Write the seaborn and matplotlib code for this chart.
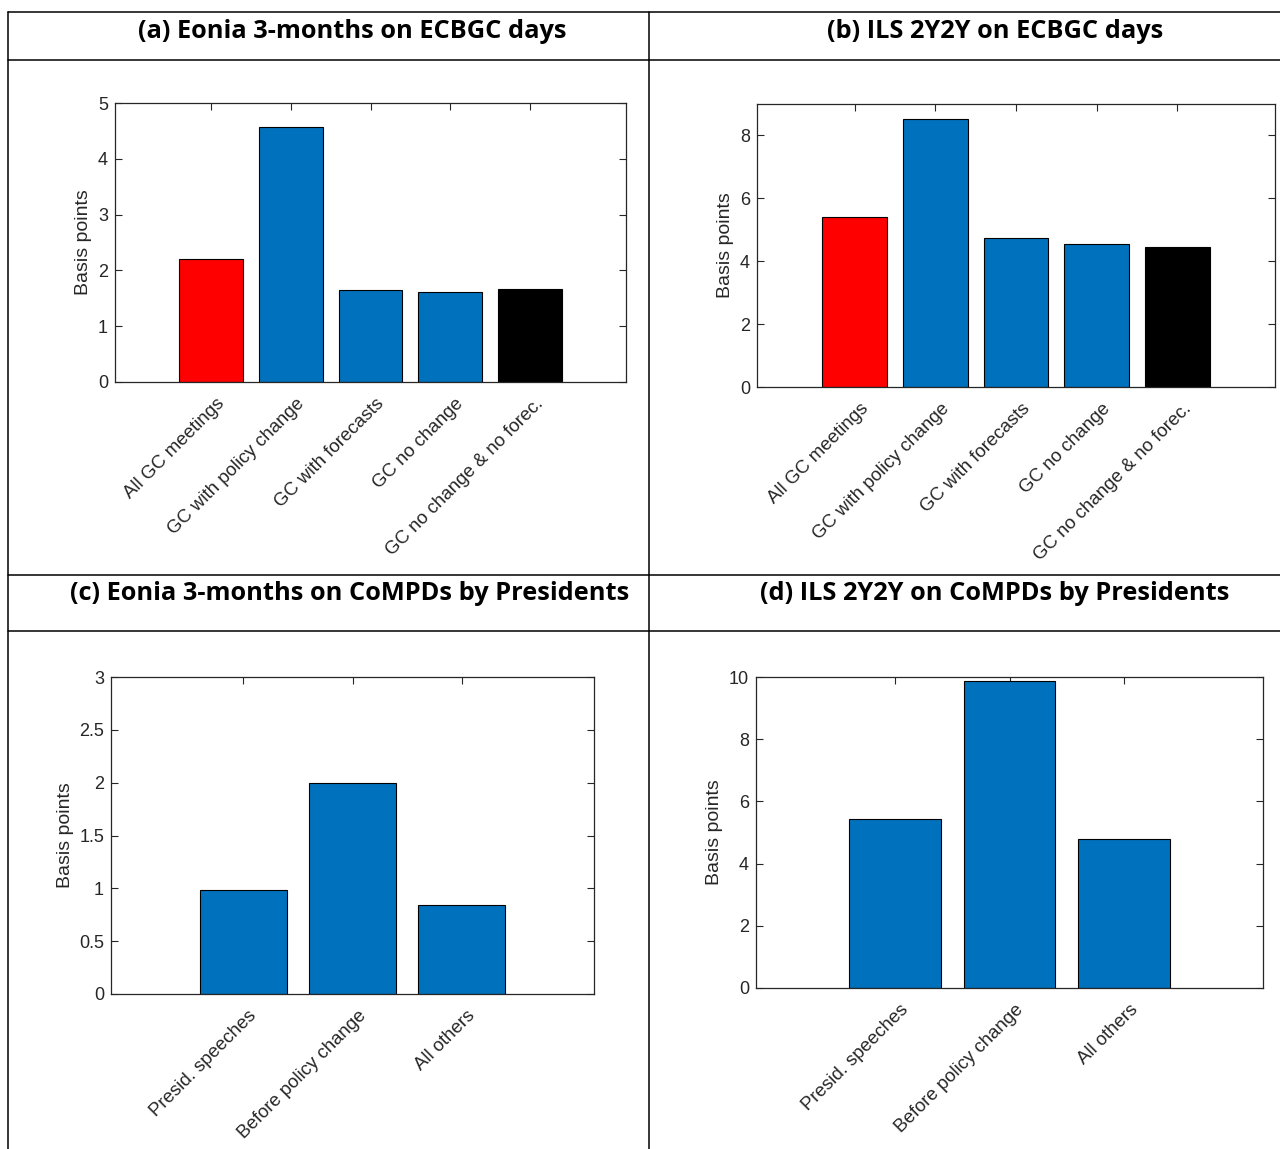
import matplotlib
matplotlib.use("Agg")
import matplotlib.pyplot as plt
import matplotlib.transforms as mtransforms
from matplotlib.lines import Line2D
import seaborn as sns
import pandas as pd

# ---------------- data ----------------
cats_ab = ["All GC meetings", "GC with policy change", "GC with forecasts",
           "GC no change", "GC no change & no forec."]
vals_a = [2.21, 4.57, 1.64, 1.62, 1.67]
vals_b = [5.41, 8.53, 4.74, 4.54, 4.44]
colors_ab = ["#FF0000", "#0072BD", "#0072BD", "#0072BD", "#000000"]

cats_cd = ["Presid. speeches", "Before policy change", "All others"]
vals_c = [0.98, 2.00, 0.84]
vals_d = [5.45, 9.87, 4.80]
colors_cd = ["#0072BD", "#0072BD", "#0072BD"]

titles = ["(a) Eonia 3-months on ECBGC days",
          "(b) ILS 2Y2Y on ECBGC days",
          "(c) Eonia 3-months on CoMPDs by Presidents",
          "(d) ILS 2Y2Y on CoMPDs by Presidents"]
ylims = [(0, 5), (0, 9), (0, 3), (0, 10)]
yticks = [[0, 1, 2, 3, 4, 5], [0, 2, 4, 6, 8],
          [0, 0.5, 1, 1.5, 2, 2.5, 3], [0, 2, 4, 6, 8, 10]]
ytick_labels = [["0", "1", "2", "3", "4", "5"], ["0", "2", "4", "6", "8"],
                ["0", "0.5", "1", "1.5", "2", "2.5", "3"],
                ["0", "2", "4", "6", "8", "10"]]
ylabel = "Basis points"

# ---------------- layout ----------------
sns.set_theme(style="white")
plt.rcParams['font.family'] = ['Liberation Sans', 'DejaVu Sans']

W, H = 1280, 1149
fig = plt.figure(figsize=(W / 100, H / 100), dpi=100)
fig.patch.set_facecolor("white")

def rect(x0, x1, y0, y1):
    return [x0 / W, 1 - y1 / H, (x1 - x0) / W, (y1 - y0) / H]

axes_px = [(115, 626, 103, 382), (757, 1275, 104, 387),
           (111, 594, 677, 994), (756, 1263, 677, 988)]
panels = [(cats_ab, vals_a, colors_ab), (cats_ab, vals_b, colors_ab),
          (cats_cd, vals_c, colors_cd), (cats_cd, vals_d, colors_cd)]

TC = "#262626"
for i, ((cats, vals, cols), px) in enumerate(zip(panels, axes_px)):
    ax = fig.add_axes(rect(*px))
    df = pd.DataFrame({"cat": cats, "val": vals})
    sns.barplot(data=df, x="cat", y="val", hue="cat", order=cats, hue_order=cats,
                palette=dict(zip(cats, cols)), legend=False, ax=ax, width=0.8,
                saturation=1, edgecolor="black", linewidth=0.8)
    n = len(cats)
    ax.set_xlim(-1.21, n - 1 + 1.21)
    ax.set_ylim(*ylims[i])
    ax.set_yticks(yticks[i])
    ax.set_yticklabels(ytick_labels[i])
    ax.set_xticks(range(n))
    ax.tick_params(axis="both", which="both", direction="in", length=5,
                   width=0.8, color=TC, top=True, right=True, bottom=True,
                   left=True, labelsize=13, labelcolor=TC, pad=5)
    ax.set_xticklabels(cats, rotation=45, ha="right", va="top",
                       rotation_mode="anchor", fontsize=13.4, color=TC)
    offset = mtransforms.ScaledTranslation(5 / 100, -6 / 100, fig.dpi_scale_trans)
    for lab in ax.get_xticklabels():
        lab.set_transform(lab.get_transform() + offset)
    ax.set_xlabel("")
    ax.set_ylabel(ylabel, fontsize=14, color=TC, labelpad=4)
    for sp in ax.spines.values():
        sp.set_visible(True)
        sp.set_color(TC)
        sp.set_linewidth(0.9)
    ax.set_facecolor("white")

# table grid
def hline(y, x0=8, x1=W):
    fig.add_artist(Line2D([x0 / W, x1 / W], [1 - y / H, 1 - y / H],
                          color="black", lw=1.1, transform=fig.transFigure))

def vline(x, y0=12, y1=H):
    fig.add_artist(Line2D([x / W, x / W], [1 - y0 / H, 1 - y1 / H],
                          color="black", lw=1.1, transform=fig.transFigure))

for y in (12, 60, 575, 631):
    hline(y)
vline(8)
vline(649)

title_pos = [(352, 31), (995, 31), (350, 593), (995, 593)]
for t, (x, y) in zip(titles, title_pos):
    fig.text(x / W, 1 - y / H, t, ha="center", va="center", fontsize=18.3,
             fontweight="bold", family=["Open Sans", "DejaVu Sans"], color="black")

fig.savefig("out.png", dpi=100)
